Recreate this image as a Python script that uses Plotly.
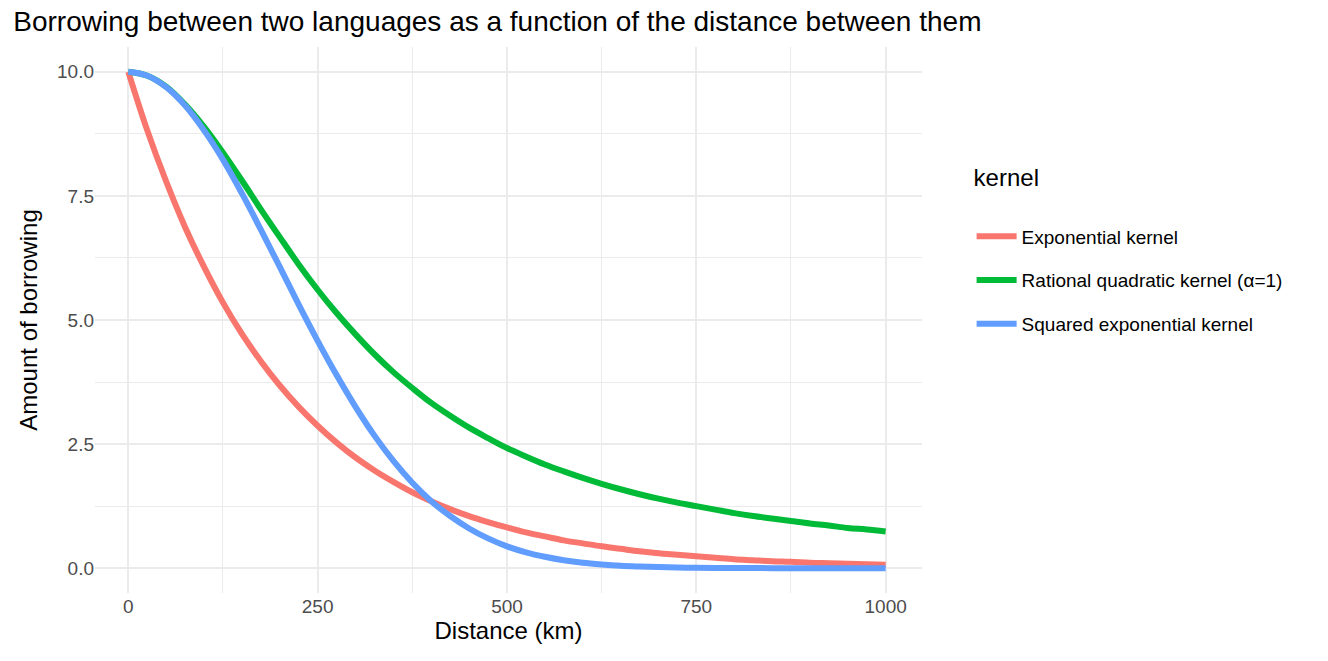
import plotly.graph_objects as go

distance = [25 * k for k in range(41)]
exponential = [10.00, 8.82, 7.79, 6.87, 6.07, 5.35, 4.72, 4.17, 3.68, 3.25, 2.87, 2.53, 2.23, 1.97, 1.74, 1.53,
               1.35, 1.19, 1.05, 0.93, 0.82, 0.72, 0.64, 0.56, 0.50, 0.44, 0.39, 0.34, 0.30, 0.27, 0.24, 0.21,
               0.18, 0.16, 0.14, 0.13, 0.11, 0.10, 0.09, 0.08, 0.07]
rational = [10.00, 9.92, 9.70, 9.34, 8.89, 8.37, 7.81, 7.23, 6.67, 6.12, 5.61, 5.14, 4.71, 4.31, 3.95, 3.63,
            3.33, 3.07, 2.83, 2.62, 2.42, 2.25, 2.09, 1.95, 1.82, 1.70, 1.59, 1.49, 1.40, 1.32, 1.25, 1.18,
            1.11, 1.05, 1.00, 0.95, 0.90, 0.86, 0.81, 0.78, 0.74]
squared = [10.00, 9.92, 9.69, 9.32, 8.82, 8.23, 7.55, 6.82, 6.07, 5.31, 4.58, 3.89, 3.25, 2.67, 2.16, 1.72,
           1.35, 1.05, 0.80, 0.60, 0.44, 0.32, 0.23, 0.16, 0.11, 0.076, 0.05, 0.034, 0.022, 0.014, 0.009,
           0.005, 0.003, 0.002, 0.001, 0.001, 0.0, 0.0, 0.0, 0.0, 0.0]
names = ["Exponential kernel", "Rational quadratic kernel (α=1)", "Squared exponential kernel"]
colors = ["#F8766D", "#00BA38", "#619CFF"]

fig = go.Figure()
for i, (name, ys, c) in enumerate(zip(names, [exponential, rational, squared], colors)):
    fig.add_trace(go.Scatter(x=distance, y=ys, mode="lines", name=name, legendgroup=f"g{i}",
                             line=dict(color=c, width=6, shape="spline")))

fig.update_layout(
    width=1328, height=661, plot_bgcolor="white", paper_bgcolor="white",
    font=dict(family="Liberation Sans, Arial", color="#4d4d4d"),
    margin=dict(l=87, r=414, t=39, b=76),
    title=dict(text="Borrowing between two languages as a function of the distance between them",
               x=0.004, xanchor="left", y=0.995, yanchor="top", font=dict(size=28, color="black")),
    xaxis=dict(range=[-44, 1048], tickvals=[0, 250, 500, 750, 1000], ticktext=["0", "250", "500", "750", "1000"],
               showgrid=True, gridcolor="#EBEBEB", gridwidth=2, zeroline=False, ticks="",
               minor=dict(tickvals=[125, 375, 625, 875], showgrid=True, gridcolor="#EBEBEB", gridwidth=1),
               tickfont=dict(size=19), title=dict(text="Distance (km)", font=dict(size=24, color="black"), standoff=4)),
    yaxis=dict(range=[-0.5, 10.5], tickvals=[0, 2.5, 5, 7.5, 10], ticktext=["0.0", "2.5", "5.0", "7.5", "10.0"],
               showgrid=True, gridcolor="#EBEBEB", gridwidth=2, zeroline=False, ticks="",
               minor=dict(tickvals=[1.25, 3.75, 6.25, 8.75], showgrid=True, gridcolor="#EBEBEB", gridwidth=1),
               tickfont=dict(size=19), title=dict(text="Amount of borrowing", font=dict(size=24, color="black"), standoff=12)),
    legend=dict(x=1.06, xanchor="left", y=0.63, yanchor="middle", font=dict(size=19, color="black"),
                title=dict(text="kernel<br> ", font=dict(size=24, color="black")), itemwidth=40, tracegroupgap=16),
)
fig.write_html("out.html")
